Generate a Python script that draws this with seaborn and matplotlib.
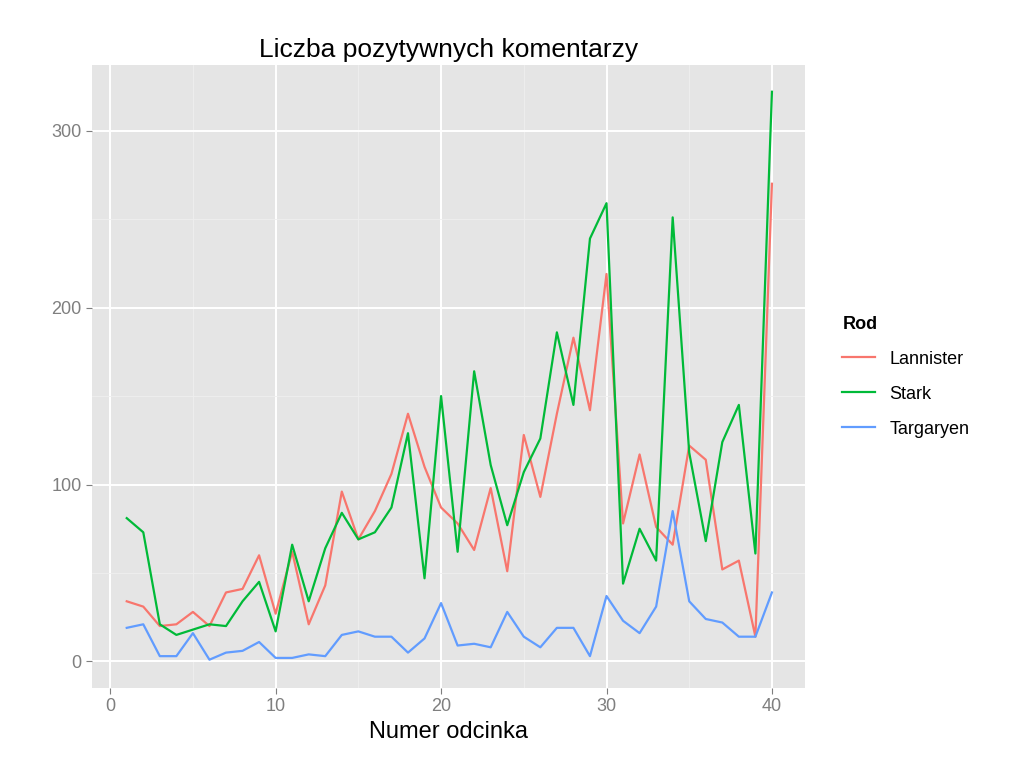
import numpy as np
import pandas as pd
import seaborn as sns
from matplotlib import pyplot as plt

plt.rcParams['font.family'] = 'Liberation Sans'

episodes = list(range(1, 41))
lannister = [34, 31, 20, 21, 28, 20, 39, 41, 60, 27, 62, 21, 43, 96, 69, 85, 106, 140, 110, 87,
             78, 63, 98, 51, 128, 93, 140, 183, 142, 219, 78, 117, 76, 66, 122, 114, 52, 57, 14, 270]
stark = [81, 73, 21, 15, 18, 21, 20, 34, 45, 17, 66, 34, 64, 84, 69, 73, 87, 129, 47, 150,
         62, 164, 111, 77, 107, 126, 186, 145, 239, 259, 44, 75, 57, 251, 118, 68, 124, 145, 61, 322]
targaryen = [19, 21, 3, 3, 16, 1, 5, 6, 11, 2, 2, 4, 3, 15, 17, 14, 14, 5, 13, 33,
             9, 10, 8, 28, 14, 8, 19, 19, 3, 37, 23, 16, 31, 85, 34, 24, 22, 14, 14, 39]

df = pd.DataFrame({
    'Numer': episodes * 3,
    'Liczba': lannister + stark + targaryen,
    'Rod': ['Lannister'] * 40 + ['Stark'] * 40 + ['Targaryen'] * 40,
})

palette = {'Lannister': '#F8766D', 'Stark': '#00BA38', 'Targaryen': '#619CFF'}

fig = plt.figure(figsize=(10.24, 7.67), dpi=100)
ax = fig.add_axes([0.09, 0.103, 0.696, 0.812])
ax.set_facecolor('#E5E5E5')
sns.lineplot(data=df, x='Numer', y='Liczba', hue='Rod', palette=palette, ax=ax, linewidth=1.6)

ax.set_xlim(-1.09, 41.99)
ax.set_ylim(-15, 337)
ax.set_xticks([0, 10, 20, 30, 40])
ax.set_yticks([0, 100, 200, 300])
ax.set_xticks([5, 15, 25, 35], minor=True)
ax.set_yticks([50, 150, 250], minor=True)
ax.grid(which='major', color='white', linewidth=1.4)
ax.grid(which='minor', color='#EFEFEF', linewidth=0.6)
ax.set_axisbelow(True)
for s in ax.spines.values():
    s.set_visible(False)
ax.tick_params(which='both', length=4, color='#7F7F7F', labelsize=13, labelcolor='#7F7F7F')
ax.tick_params(which='minor', length=0)
ax.set_xlabel('Numer odcinka', fontsize=17)
ax.set_ylabel('')
ax.set_title('Liczba pozytywnych komentarzy', fontsize=19)

leg = ax.legend(title='Rod', loc='center left', bbox_to_anchor=(1.03, 0.5), frameon=False,
                fontsize=13, handlelength=1.8, labelspacing=1.0)
leg.get_title().set_fontweight('bold')
leg.get_title().set_fontsize(13)
leg._legend_box.align = 'left'

fig.savefig('out.png', dpi=100)
